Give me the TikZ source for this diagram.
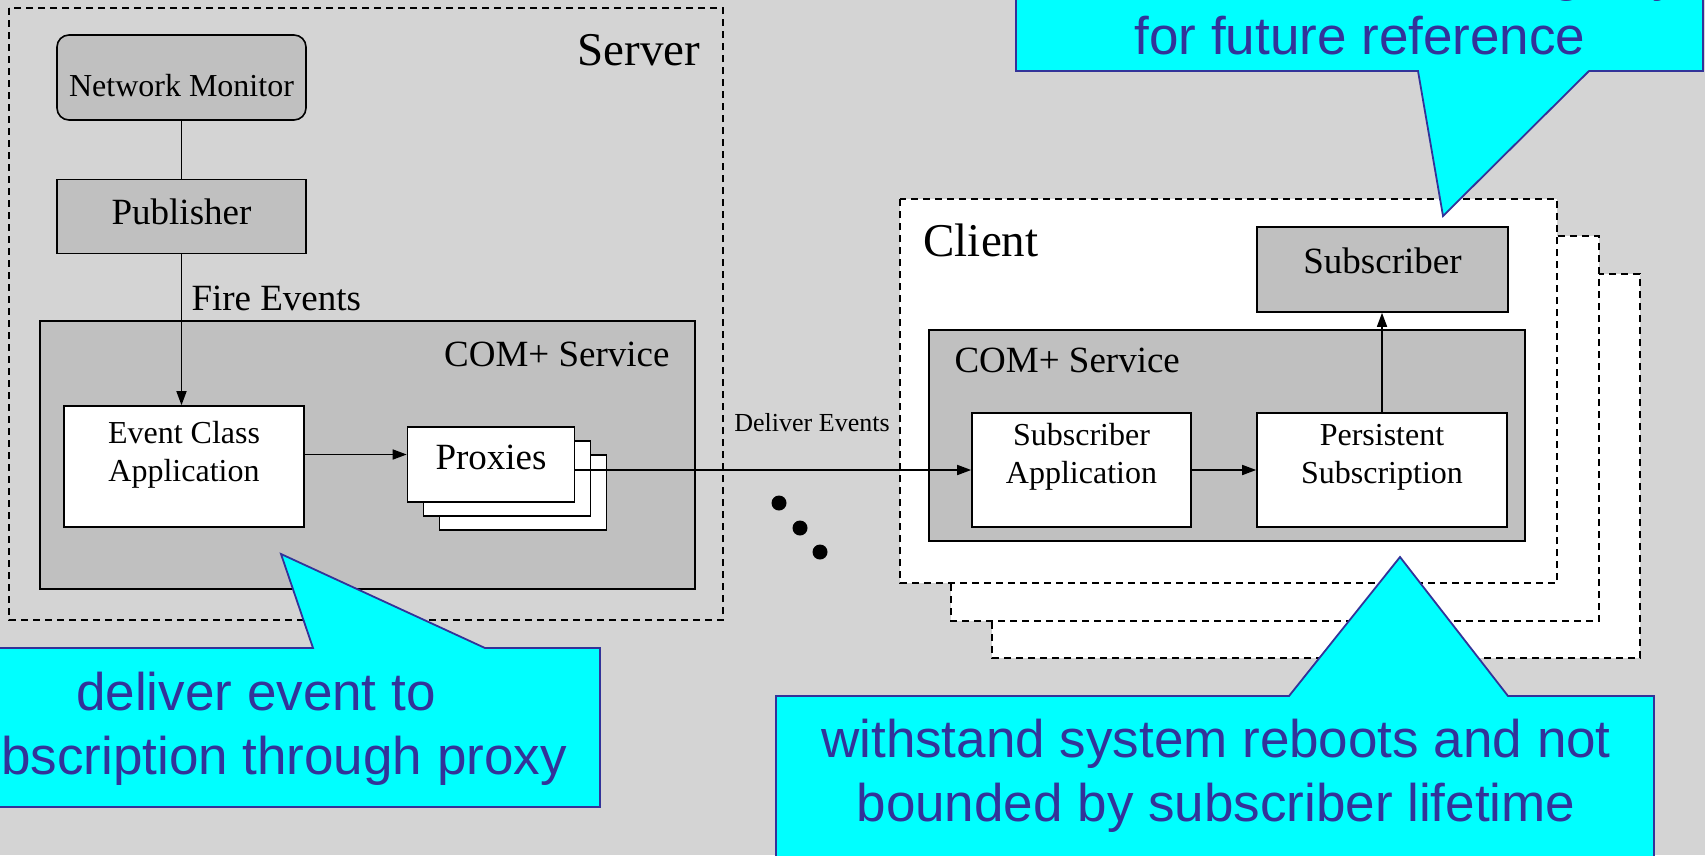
\documentclass[tikz,border=0pt]{standalone}
\usepackage{fontspec}
\setmainfont{Liberation Serif}
\newfontfamily\calloutfont{Liberation Sans}
\usetikzlibrary{positioning,arrows.meta}

\definecolor{slidebg}{RGB}{212,212,212}
\definecolor{boxgray}{RGB}{192,192,192}
\definecolor{calloutcyan}{RGB}{0,255,255}
\definecolor{calloutblue}{RGB}{51,51,153}

\tikzset{
  boxed/.style={draw, line width=1.6pt, inner sep=0pt},
  graybox/.style={boxed, fill=boxgray},
  whitebox/.style={boxed, fill=white},
  proxy/.style={whitebox, minimum width=167pt, minimum height=75pt},
  dashframe/.style={draw, line width=1.5pt, dash pattern=on 7pt off 5pt},
  arr/.style={line width=1.6pt, -{Triangle[length=14pt,width=10pt]}},
  callout/.style={fill=calloutcyan, draw=calloutblue, line width=1.8pt, line join=miter},
  callouttext/.style={text=calloutblue, align=center, font=\calloutfont\fontsize{53}{64}\selectfont},
  labelbig/.style={font=\fontsize{47}{56}\selectfont},
  labelmid/.style={font=\fontsize{37}{44}\selectfont},
  labelsmall/.style={align=center, font=\fontsize{32}{38}\selectfont},
}

\begin{document}
\begin{tikzpicture}[x=1pt,y=-1pt]
  \useasboundingbox (0,0) rectangle (1705,855);
  \fill[slidebg] (0,0) rectangle (1705,855);

  % server
  \draw[dashframe] (9,8) rectangle (723,620);
  \node[labelbig, anchor=east] (srv) at (704,50) {Server};
  \node[graybox, rounded corners=12pt, minimum width=249pt, minimum height=85pt] (nm) at (181.5,77.5) {};
  \node[labelsmall] (nmt) at ([yshift=-8pt]nm.center) {Network Monitor};
  \node[graybox, minimum width=249pt, minimum height=74pt, below=58pt of nm] (pub) {};
  \node[labelmid] (pubt) at ([yshift=5pt]pub.center) {Publisher};
  \node[graybox, minimum width=655pt, minimum height=268pt] (cs) at (367.5,455) {};
  \node[labelmid, anchor=east] (cst) at (673,354) {COM+ Service};
  \node[whitebox, minimum width=240pt, minimum height=121pt] (ec) at (184,466.5) {};
  \node[labelsmall] (ect) at ([yshift=12pt]ec.center) {Event Class\\Application};
  \coordinate (pxc) at (491,464.5);
  \node[proxy] (px3) at ([shift={(32,28)}]pxc) {};
  \node[proxy] (px2) at ([shift={(16,14)}]pxc) {};
  \node[proxy] (px1) at (pxc) {};
  \node[labelmid] (pxt) at ([yshift=7pt]px1.center) {Proxies};

  % clients
  \foreach \xa/\ya/\xb/\yb in {992/274/1640/658, 951/236/1599/621, 900/199/1557/583}
    \draw[dashframe, fill=white] (\xa,\ya) rectangle (\xb,\yb);
  \node[labelbig, anchor=west] (cli) at (920,240) {Client};
  \node[graybox, minimum width=251pt, minimum height=85pt] (sub) at (1382.5,269.5) {};
  \node[labelmid] (subt) at ([yshift=9pt]sub.center) {Subscriber};
  \node[graybox, minimum width=596pt, minimum height=211pt] (cc) at (1227,435.5) {};
  \node[labelmid, anchor=west] (cct) at (951,360) {COM+ Service};
  \node[whitebox, minimum width=219pt, minimum height=114pt] (sa) at (1081.5,470) {};
  \node[labelsmall] (sat) at ([yshift=13pt]sa.center) {Subscriber\\Application};
  \node[whitebox, minimum width=250pt, minimum height=114pt] (ps) at (1382,470) {};
  \node[labelsmall] (pst) at ([yshift=13pt]ps.center) {Persistent\\Subscription};

  % connectors
  \draw[line width=1.6pt] (nm) -- (pub);
  \draw[arr] (pub.south) -- (pub.south |- ec.north);
  \node[labelmid, anchor=west] (fire) at (188,298) {Fire Events};
  \draw[arr] (ect -| ec.east) -- (ect -| px1.west);
  \draw[arr] (px1.east |- sa.west) -- (sa.west);
  \node[font=\fontsize{26}{31}\selectfont] (dlv) at (812,423) {Deliver Events};
  \draw[arr] (sa) -- (ps);
  \draw[arr] (ps.north) -- (ps.north |- sub.south);
  \foreach \p in {(779,503),(800,528),(820,552)}
    \fill \p circle (7.5pt);

  % callouts
  \filldraw[callout] (1016,-20) -- (1016,71) -- (1418,71) -- (1443,216) -- (1589,71) -- (1703,71) -- (1703,-20) -- cycle;
  \node[callouttext, anchor=base east] (reg) at (1683,-10) {stored in the registry};
  \node[callouttext] (fut) at (1360,35.5) {for future reference};
  \filldraw[callout] (-20,648) -- (313,648) -- (281,554) -- (485,648) -- (600,648) -- (600,807) -- (-20,807) -- cycle;
  \node[callouttext] (dlvn) at (256,729) {deliver event to\\subscription through proxy};
  \filldraw[callout] (776,696) -- (1289,696) -- (1400,557) -- (1508,696) -- (1654,696) -- (1654,875) -- (776,875) -- cycle;
  \node[callouttext] (wsn) at (1216,776) {withstand system reboots and not\\bounded by subscriber lifetime};
\end{tikzpicture}
\end{document}
